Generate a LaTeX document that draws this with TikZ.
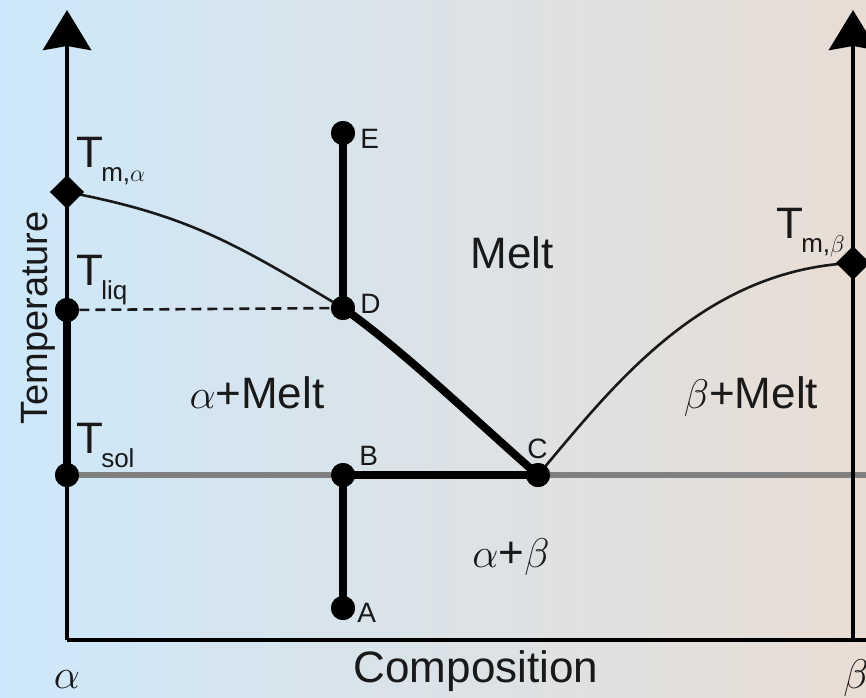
\documentclass[tikz,border=0pt]{standalone}
\usepackage{fontspec}
\setmainfont{Liberation Sans}
\usetikzlibrary{arrows.meta,shapes.geometric,calc}
\definecolor{bgleft}{RGB}{205,232,250}
\definecolor{bgmid}{RGB}{215,228,236}
\definecolor{bgright}{RGB}{233,221,212}
\definecolor{solgrey}{RGB}{128,128,128}
\definecolor{inkcol}{RGB}{25,25,25}
\newcommand{\lowsub}[1]{\kern-1pt\raisebox{-7pt}{\fontsize{13}{13}\selectfont #1}}

\begin{document}
\begin{tikzpicture}[x=0.5pt,y=-0.5pt,
  dot/.style={circle,fill=black,inner sep=0pt,minimum size=12pt},
  meltdot/.style={diamond,fill=black,inner sep=0pt,minimum size=17pt},
  axis/.style={line width=2.4pt,black},
  bar/.style={line width=4pt,black},
  curve/.style={line width=1.3pt,inkcol},
  big/.style={text=inkcol,font=\fontsize{22}{22}\selectfont,inner sep=0pt},
  small/.style={text=inkcol,font=\fontsize{14}{14}\selectfont,inner sep=0pt}]

% background
\useasboundingbox (0,0) rectangle (866,697);
\shade[left color=bgleft,middle color=bgmid,right color=bgright] (0,0) rectangle (866,697);

% axes corners
\coordinate (origin) at (67,640);
\coordinate (ltop) at (67,10);
\coordinate (rbot) at (853,640);
\coordinate (rtop) at (853,10);
\coordinate (xend) at (866,640);
\coordinate (solend) at (866,475);

% points
\node[meltdot] (tma) at (67,192) {};
\node[dot] (tliq) at (67,310) {};
\node[dot] (tsol) at (67,475) {};
\node[meltdot] (tmb) at (853,263) {};
\node[dot] (E) at (343,133) {};
\node[dot] (D) at (343,308) {};
\node[dot] (B) at (343,475) {};
\node[dot] (A) at (343,608) {};
\node[dot] (C) at (538,475) {};

% solidus and liquidus
\draw[line width=3pt,solgrey] (tsol.center) -- (solend);
\draw[curve] (tma.center) .. controls (187,215) and (233,242) .. (D.center);
\draw[curve] (C.center) .. controls (610,390) and (700,270) .. (tmb.center);
\draw[line width=1.3pt,inkcol,dash pattern=on 5pt off 3pt] (tliq) -- (D);

% cooling path
\draw[bar] (E.center) -- (D.center);
\draw[bar] (D.center) .. controls (403,350) and (478,423) .. (C.center);
\draw[bar] (B.center) -- (C.center);
\draw[bar] (B.center) -- (A.center);

% axes
\draw[axis,-{Stealth[length=20pt,width=24pt,inset=2pt]}] (origin) -- (ltop);
\draw[axis,-{Stealth[length=20pt,width=24pt,inset=2pt]}] (rbot) -- (rtop);
\draw[axis] (origin) -- (xend);
\draw[bar] (tliq.center) -- (tsol.center);

% redraw dots on top
\foreach \p in {tliq,tsol,E,D,B,A,C} \fill (\p) circle (6pt);
\foreach \p in {tma,tmb} \fill ($(\p)+(-17,0)$) -- ($(\p)+(0,-15)$) -- ($(\p)+(17,0)$) -- ($(\p)+(0,15)$) -- cycle;

% temperature labels
\node[big,anchor=base west] (ltma) at (76,167) {T\lowsub{m,$\alpha$}};
\node[big,anchor=base west] (ltliq) at (76,285) {T\lowsub{liq}};
\node[big,anchor=base west] (ltsol) at (76,453) {T\lowsub{sol}};
\node[big,anchor=base west] (ltmb) at (776,238) {T\lowsub{m,$\beta$}};

% point labels
\node[small,anchor=base west] (lE) at (360,148) {E};
\node[small,anchor=base west] (lD) at (360,313) {D};
\node[small,anchor=base west] (lB) at (359,465) {B};
\node[small,anchor=base west] (lC) at (527,458) {C};
\node[small,anchor=base west] (lA) at (357,622) {A};

% regions
\node[big,anchor=base] (melt) at (512,268) {Melt};
\node[big,anchor=base] (amelt) at (257,408) {$\alpha$+Melt};
\node[big,anchor=base] (bmelt) at (751,408) {$\beta$+Melt};
\node[big,anchor=base] (ab) at (511,567) {$\alpha$+$\beta$};

% axis titles
\node[big,anchor=base] (comp) at (476,682) {Composition};
\node[big,anchor=base] (xa) at (67,688) {$\alpha$};
\node[big,anchor=base] (xb) at (856,688) {$\beta$};
\node[big,font=\fontsize{19}{19}\selectfont,anchor=base,rotate=90] (temp) at (47,318) {Temperature};

\end{tikzpicture}
\end{document}
